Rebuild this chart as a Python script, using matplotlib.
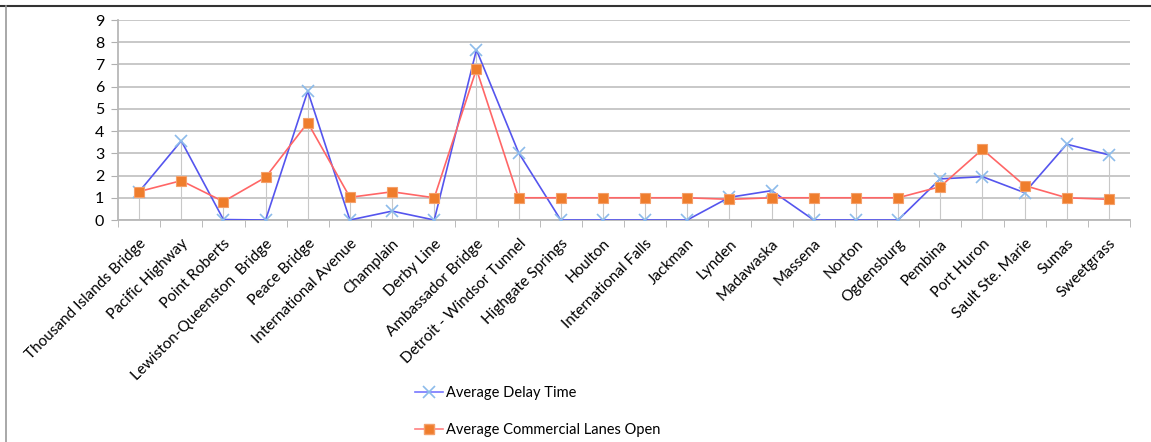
import matplotlib
matplotlib.use("Agg")
from matplotlib import pyplot as plt
from matplotlib.lines import Line2D
import numpy as np

plt.rcParams['font.family'] = ['Lato', 'DejaVu Sans']

crossings = ['Thousand Islands Bridge', 'Pacific Highway', 'Point Roberts',
             'Lewiston-Queenston  Bridge', 'Peace Bridge', 'International Avenue',
             'Champlain', 'Derby Line', 'Ambassador Bridge', 'Detroit - Windsor Tunnel',
             'Highgate Springs', 'Houlton', 'International Falls', 'Jackman',
             'Lynden', 'Madawaska', 'Massena', 'Norton', 'Ogdensburg', 'Pembina',
             'Port Huron', 'Sault Ste. Marie', 'Sumas', 'Sweetgrass']
delay_time = [1.27, 3.56, 0.02, 0.0, 5.8, 0.0, 0.4, 0.0, 7.66, 3.03,
              0.0, 0.0, 0.0, 0.0, 1.02, 1.32, 0.0, 0.0, 0.0, 1.85,
              1.95, 1.23, 3.41, 2.93]
lanes_open = [1.28, 1.77, 0.83, 1.92, 4.38, 1.02, 1.27, 1.0, 6.79, 1.0,
              1.0, 1.0, 1.0, 1.0, 0.93, 1.0, 1.0, 1.0, 1.0, 1.5,
              3.18, 1.55, 1.0, 0.93]

fig = plt.figure(figsize=(11.51, 4.42), dpi=100)
ax = fig.add_axes([118 / 1151, 1 - 220 / 442, 1012 / 1151, 200 / 442])

x = np.arange(len(crossings))

# drop lines (excel style)
tops = np.maximum(delay_time, lanes_open)
ax.vlines(x, 0, tops, color='#c8c8c8', linewidth=0.8, zorder=1)

ax.plot(x, delay_time, color='#5555ee', linewidth=1.2, marker='x',
        markersize=9, markeredgecolor='#8cbbea', markeredgewidth=1.2, zorder=3)
ax.plot(x, lanes_open, color='#ff6666', linewidth=1.2, marker='s',
        markersize=7, markerfacecolor='#ef7d2c', markeredgecolor='#f4a06a',
        markeredgewidth=0.8, zorder=4)

ax.set_xlim(-0.5, len(crossings) - 0.5)
ax.set_ylim(0, 9)
ax.set_yticks(range(10))
ax.yaxis.grid(True, color='#c4c4c4', linewidth=1.3)
ax.set_axisbelow(True)

ax.set_xticks(x)
ax.set_xticklabels(crossings, rotation=45, ha='right', rotation_mode='anchor',
                   fontsize=11)
ax.tick_params(axis='x', length=0, pad=12)
# category separators below axis
ax.set_xticks(np.arange(-0.5, len(crossings)), minor=True)
ax.tick_params(axis='x', which='minor', length=5, color='#b0b0b0')
ax.tick_params(axis='y', length=5, color='#b0b0b0', labelsize=11.5, pad=5)

for s in ['top', 'right']:
    ax.spines[s].set_visible(False)
ax.spines['left'].set_color('#b8b8b8')
ax.spines['bottom'].set_color('#b8b8b8')
ax.spines['left'].set_linewidth(1.3)
ax.spines['bottom'].set_linewidth(1.3)

handles = [
    Line2D([], [], color='#7777ff', linewidth=1.2, marker='x', markersize=9,
           markeredgecolor='#8cbbea', markeredgewidth=1.2),
    Line2D([], [], color='#ff8080', linewidth=1.2, marker='s', markersize=7,
           markerfacecolor='#ef7d2c', markeredgecolor='#f4a06a'),
]
fig.legend(handles, ['Average Delay Time', 'Average Commercial Lanes Open'],
           loc='upper left', bbox_to_anchor=(402 / 1151, 1 - 373 / 442),
           frameon=False, fontsize=10.5, labelspacing=1.6, handlelength=1.9,
           handletextpad=0.25)

# outer frame lines
fig.add_artist(Line2D([0, 1], [1 - 6 / 442, 1 - 6 / 442], color='#333333',
                     linewidth=1.5, transform=fig.transFigure))
fig.add_artist(Line2D([6 / 1151, 6 / 1151], [0, 1 - 6 / 442], color='#999999',
                     linewidth=1.2, transform=fig.transFigure))

fig.savefig('out.png', dpi=100)
